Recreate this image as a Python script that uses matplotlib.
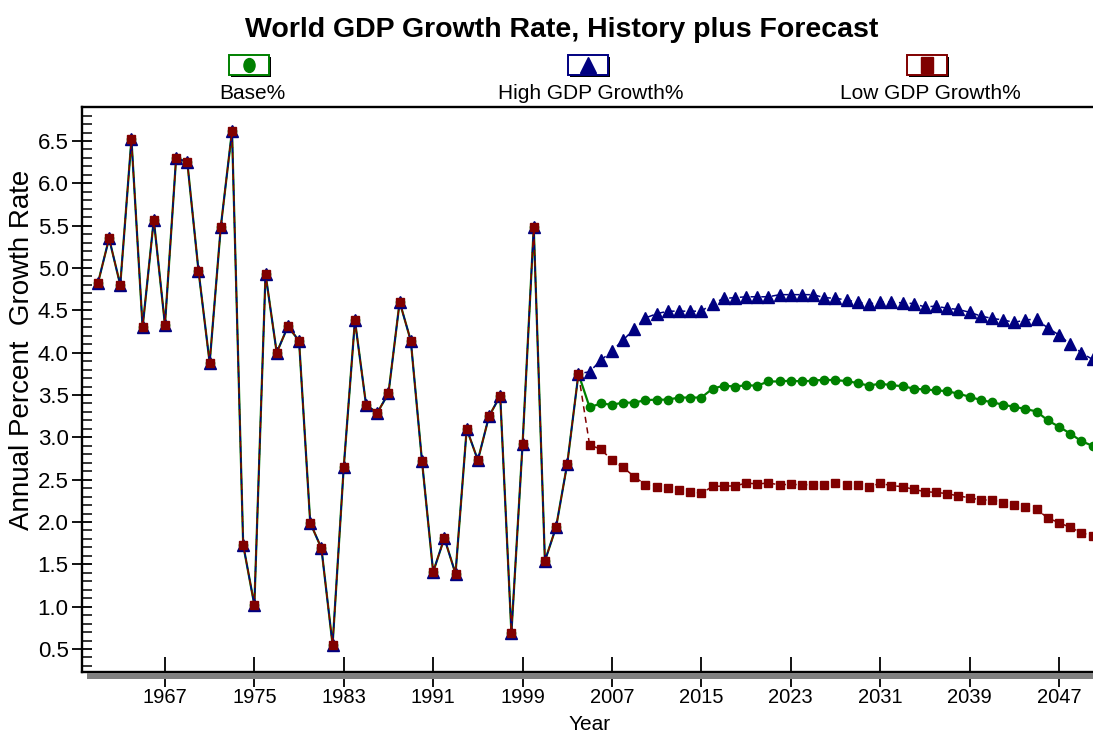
import matplotlib
matplotlib.use('Agg')
import matplotlib.pyplot as plt
from matplotlib.patches import Rectangle
from matplotlib.lines import Line2D
from matplotlib.markers import MarkerStyle
from matplotlib.transforms import Affine2D
from matplotlib.ticker import MultipleLocator
import numpy as np

# history 1961-2004 (same for all three series)
hist_years = list(range(1961, 2005))
hist = [4.82, 5.35, 4.80, 6.52, 4.30, 5.57, 4.33, 6.30, 6.25, 4.97,
        3.88, 5.49, 6.62, 1.73, 1.02, 4.93, 4.00, 4.31, 4.14, 1.99,
        1.69, 0.55, 2.65, 4.38, 3.38, 3.29, 3.52, 4.60, 4.14, 2.72,
        1.41, 1.81, 1.39, 3.10, 2.73, 3.25, 3.49, 0.69, 2.92, 5.48,
        1.54, 1.94, 2.69, 3.75]

# forecast 2005-2050
fc_years = list(range(2005, 2051))
base_fc = [3.355, 3.40, 3.385, 3.41, 3.41, 3.44, 3.445, 3.445, 3.47, 3.47, 3.47,
           3.575, 3.61, 3.60, 3.615, 3.61, 3.66, 3.66, 3.67, 3.66, 3.67,
           3.68, 3.675, 3.665, 3.64, 3.61, 3.635, 3.615, 3.605, 3.575, 3.565,
           3.555, 3.545, 3.515, 3.48, 3.44, 3.415, 3.385, 3.36, 3.335, 3.305,
           3.20, 3.125, 3.045, 2.955, 2.90]
high_fc = [3.775, 3.91, 4.02, 4.15, 4.28, 4.41, 4.46, 4.49, 4.49, 4.49, 4.49,
           4.58, 4.64, 4.65, 4.66, 4.66, 4.66, 4.685, 4.685, 4.685, 4.685,
           4.65, 4.642, 4.622, 4.595, 4.575, 4.60, 4.60, 4.587, 4.58, 4.54,
           4.55, 4.524, 4.51, 4.477, 4.433, 4.405, 4.386, 4.358, 4.386, 4.398,
           4.29, 4.21, 4.10, 4.00, 3.92]
low_fc = [2.91, 2.86, 2.73, 2.645, 2.535, 2.44, 2.41, 2.40, 2.38, 2.36, 2.34,
          2.42, 2.425, 2.425, 2.46, 2.45, 2.46, 2.44, 2.445, 2.44, 2.44,
          2.44, 2.457, 2.441, 2.441, 2.414, 2.457, 2.43, 2.417, 2.386, 2.358,
          2.35, 2.335, 2.307, 2.287, 2.26, 2.26, 2.228, 2.205, 2.177, 2.15,
          2.047, 1.992, 1.937, 1.874, 1.835]

labels = ['Base%', 'High GDP Growth%', 'Low GDP Growth%']
colors = ['#008000', '#000080', '#800000']
xticks = list(range(1967, 2050, 8))

years = hist_years + fc_years
base = hist + base_fc
high = hist + high_fc
low = hist + low_fc

W, H = 1093, 734
def fx(px):
    return px / W
def fy(py):
    return 1 - py / H

font = ['Liberation Sans', 'DejaVu Sans']

fig = plt.figure(figsize=(W / 100, H / 100), dpi=100)
ax = fig.add_axes([fx(81.7), fy(671.7), fx(1100) - fx(81.7), fy(106.7) - fy(671.7)])

ax.plot(years, base, color=colors[0], lw=1.6, marker='o', ms=6, zorder=3)
ax.plot(years, high, color=colors[1], lw=1.1, ls=(0, (4, 3)), marker='^', ms=8.5, zorder=4)
ax.plot(years, low, color=colors[2], lw=1.1, ls=(3.5, (4, 3)), marker='s', ms=6, zorder=5)

ax.set_xlim(1959.55, 2050.67)
ax.set_ylim(0.232, 6.905)
ax.set_xticks(xticks)
ax.set_xticklabels([str(y) for y in xticks], fontsize=14.5, family=font)
yt = np.arange(0.5, 6.51, 0.5)
ax.set_yticks(yt)
ax.set_yticklabels(['%.1f' % v for v in yt], fontsize=16, family=font)
ax.yaxis.set_minor_locator(MultipleLocator(0.1))
ax.tick_params(axis='x', which='major', direction='inout', length=21, width=1.3, pad=1.5)
ax.tick_params(axis='x', which='minor', length=0)
ax.tick_params(axis='y', which='major', direction='inout', length=15, width=1.3, pad=2)
ax.tick_params(axis='y', which='minor', direction='in', length=7.5, width=1.1)
for s in ['left', 'bottom', 'top']:
    ax.spines[s].set_linewidth(1.7)
ax.spines['right'].set_visible(False)

# grey shadow under the x axis
fig.add_artist(Rectangle((fx(87), fy(678.5)), 1.0, 5.5 / H, color='#808080', lw=0))

# legend boxes across the top
centers = [248.5, 587.5, 927]
label_x = [252, 591, 930]
mk = [MarkerStyle('o', transform=Affine2D().scale(0.8, 1.0)),
      MarkerStyle('^'),
      MarkerStyle('s', transform=Affine2D().scale(0.75, 1.0))]
msz = [10, 12, 11.5]
bw, bh, cy = 40, 20, 64.5
for c, lx, col, m, s, lab in zip(centers, label_x, colors, mk, msz, labels):
    fig.add_artist(Rectangle((fx(c - bw / 2 + 2), fy(cy + bh / 2 + 2)), bw / W, bh / H,
                             facecolor='black', edgecolor='none'))
    fig.add_artist(Rectangle((fx(c - bw / 2), fy(cy + bh / 2)), bw / W, bh / H,
                             facecolor='white', edgecolor=col, lw=1.4))
    fig.add_artist(Line2D([fx(c)], [fy(cy)], transform=fig.transFigure, marker=m, ms=s,
                          color=col, ls='none'))
    fig.text(fx(lx), fy(99), lab, ha='center', va='baseline', fontsize=15, family=font)

fig.text(fx(562), fy(37), 'World GDP Growth Rate, History plus Forecast', ha='center',
         va='baseline', fontsize=20.5, fontweight='bold', family=font)
fig.text(fx(22), fy(350), 'Annual Percent  Growth Rate', rotation=90, ha='center',
         va='center', fontsize=20, family=font)
fig.text(fx(590), fy(730), 'Year', ha='center', va='baseline', fontsize=15, family=font)

fig.savefig('out.png', dpi=100)
